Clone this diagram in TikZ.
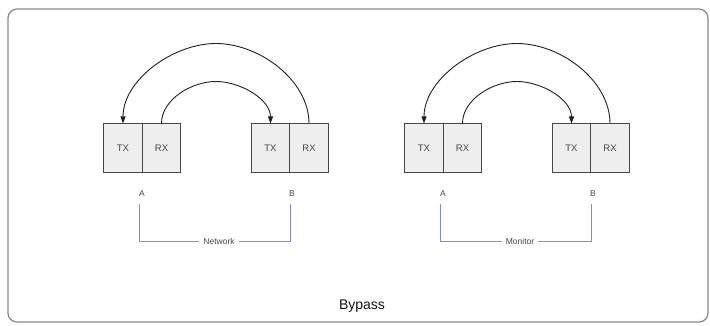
\documentclass[tikz,border=0pt]{standalone}
\usepackage{fontspec}
\setsansfont{Liberation Sans}
\usetikzlibrary{positioning,arrows.meta,calc}
\definecolor{portfill}{RGB}{238,238,238}
\definecolor{portline}{RGB}{70,70,70}
\definecolor{linkblue}{RGB}{125,145,210}
\definecolor{framegray}{RGB}{135,135,135}

\begin{document}
\begin{tikzpicture}[x=1pt,y=-1pt,font=\sffamily,
	port/.style={draw=portline,fill=portfill,line width=0.9pt,minimum width=38.5pt,
		minimum height=49pt,inner sep=0pt,outer sep=0pt,text=gray!55!black,
		font=\sffamily\fontsize{9.5}{10}\selectfont},
	loopline/.style={-{Triangle[length=7pt,width=5pt]},draw=gray!25!black,line width=0.9pt},
	bracket/.style={draw=linkblue,line width=0.9pt},
	endlabel/.style={text=gray!55!black,inner sep=1pt,font=\sffamily\fontsize{8.5}{10}\selectfont}]
	\useasboundingbox (0,0) rectangle (710,326);
	\draw[framegray,line width=1.2pt,rounded corners=9pt] (8,9) rectangle (708,322);
	\foreach \X [count=\Y] in {Network,Monitor}
	{\pgfmathsetmacro{\S}{(\Y-1)*301}
		\node[port] (TXA-\Y) at (\S+123,148) {TX};
		\node[port,right=0pt of TXA-\Y] (RXA-\Y) {RX};
		\node[port] (TXB-\Y) at (\S+270.5,148) {TX};
		\node[port,right=0pt of TXB-\Y] (RXB-\Y) {RX};
		% loops between the two ends
		\coordinate (outer-\Y) at ($(RXB-\Y.north)!0.5!(TXA-\Y.north)+(0,-80)$);
		\coordinate (inner-\Y) at ($(RXA-\Y.north)!0.5!(TXB-\Y.north)+(0,-42)$);
		\draw[loopline] (RXB-\Y.north) to[out=90,in=0,looseness=0.9] (outer-\Y)
			to[out=180,in=90,looseness=0.9] (TXA-\Y.north);
		\draw[loopline] (RXA-\Y.north) to[out=90,in=180,looseness=0.9] (inner-\Y)
			to[out=0,in=90,looseness=0.9] (TXB-\Y.north);
		\node[endlabel] (A-\Y) at (\S+142,194) {A};
		\node[endlabel] (B-\Y) at (\S+292,194) {B};
		\node[endlabel,inner sep=4pt] (N-\Y) at (\S+219,241) {\X};
		\draw[bracket] ([xshift=-3pt,yshift=-6pt]A-\Y.south) |- (N-\Y.west);
		\draw[bracket] (N-\Y.east) -| ([xshift=-2pt,yshift=-6pt]B-\Y.south);
	}
	\node[text=gray!15!black,font=\sffamily\fontsize{14}{16}\selectfont] (title) at (362,306) {Bypass};
\end{tikzpicture}
\end{document}
